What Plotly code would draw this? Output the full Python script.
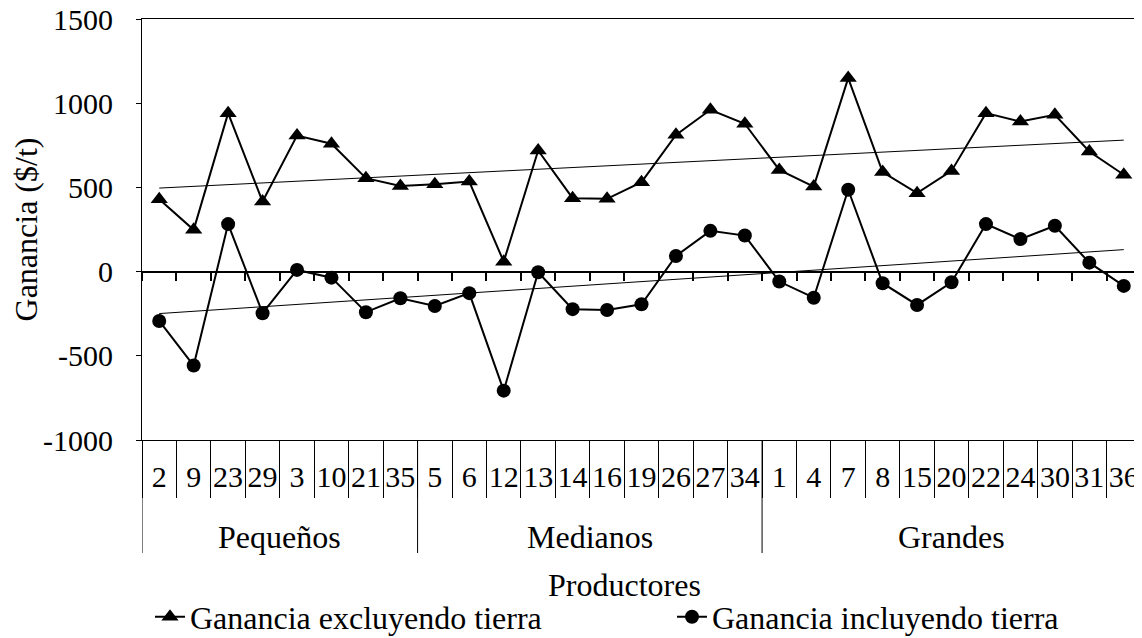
import numpy as np
import plotly.graph_objects as go

groups = ["Pequeños"] * 8 + ["Medianos"] * 10 + ["Grandes"] * 11
productores = ["2", "9", "23", "29", "3", "10", "21", "35",
               "5", "6", "12", "13", "14", "16", "19", "26", "27", "34",
               "1", "4", "7", "8", "15", "20", "22", "24", "30", "31", "36"]
ganancia_excl = [430, 248, 941, 416, 808, 759, 555, 509,
                 519, 535, 59, 719, 436, 432, 531, 812, 961, 878,
                 604, 505, 1149, 591, 466, 598, 941, 891, 931, 713, 575]
ganancia_incl = [-293, -558, 282, -247, 10, -36, -241, -158,
                 -204, -128, -707, -4, -223, -228, -194, 93, 242, 214,
                 -59, -155, 486, -69, -198, -63, 282, 193, 272, 53, -85]
y_ticks = [-1000, -500, 0, 500, 1000, 1500]

FONT = "Liberation Serif, Times New Roman, serif"
FS_TXT = 32
FS_NUM = 30

# the page body adds an 8px margin, so the figure is sized to the remaining view
W, H = 1134, 630
ML, MR, MT, MB = 134, 1, 11, 198
PW, PH = W - ML - MR, H - MT - MB
PLOT_LEFT, PLOT_BOTTOM = 8 + ML, 8 + H - MB


def py(pix_y):
    """screen pixel row -> paper y"""
    return (PLOT_BOTTOM - pix_y) / PH


def px(pix_x):
    return (pix_x - PLOT_LEFT) / PW


idx = np.arange(len(productores))


def trend(vals):
    m, b = np.polyfit(idx, np.array(vals, dtype=float), 1)
    return list(m * idx + b)


fig = go.Figure()
fig.add_trace(go.Scatter(
    x=productores, y=ganancia_excl, mode="lines+markers",
    name="Ganancia excluyendo tierra", legend="legend",
    line=dict(color="black", width=2),
    marker=dict(symbol="triangle-up", size=15, color="black")))
fig.add_trace(go.Scatter(
    x=productores, y=ganancia_incl, mode="lines+markers",
    name="Ganancia incluyendo tierra", legend="legend2",
    line=dict(color="black", width=2),
    marker=dict(symbol="circle", size=14, color="black")))
fig.add_trace(go.Scatter(
    x=productores, y=trend(ganancia_excl), mode="lines", showlegend=False,
    line=dict(color="black", width=1), hoverinfo="skip"))
fig.add_trace(go.Scatter(
    x=productores, y=trend(ganancia_incl), mode="lines", showlegend=False,
    line=dict(color="black", width=1), hoverinfo="skip"))
# hidden trace carrying the category axis drawn at y = 0
fig.add_trace(go.Scatter(
    x=productores, y=[None] * len(productores), xaxis="x2",
    showlegend=False, hoverinfo="skip", mode="lines"))

ymin, ymax = y_ticks[0], y_ticks[-1]
zero_pos = (0 - ymin) / (ymax - ymin)

# group boundaries and centres derived from the group list
bounds = [-0.5]
centres = []
names = []
start = 0
for i in range(1, len(groups) + 1):
    if i == len(groups) or groups[i] != groups[start]:
        bounds.append(i - 0.5)
        centres.append((start + i - 1) / 2)
        names.append(groups[start])
        start = i

shapes = [dict(type="line", xref="x", yref="paper", x0=b, x1=b,
               y0=0, y1=py(553), line=dict(color="black", width=1))
          for b in bounds]
annotations = [dict(text=n, x=c, xref="x", y=py(537), yref="paper",
                    showarrow=False, yanchor="middle", xanchor="center",
                    font=dict(family=FONT, size=FS_TXT, color="black"))
               for n, c in zip(names, centres)]
annotations.append(dict(text="Productores", x=px(624), xref="paper",
                        y=py(585), yref="paper", showarrow=False,
                        yanchor="middle", xanchor="center",
                        font=dict(family=FONT, size=FS_TXT, color="black")))

legend_common = dict(orientation="h", yanchor="middle", xanchor="left",
                     font=dict(family=FONT, size=FS_TXT, color="black"),
                     bgcolor="rgba(0,0,0,0)", itemwidth=30)

fig.update_layout(
    width=W, height=H,
    margin=dict(l=ML, r=MR, t=MT, b=MB, autoexpand=False),
    paper_bgcolor="white", plot_bgcolor="white",
    font=dict(family=FONT, size=FS_TXT, color="black"),
    showlegend=True,
    legend=dict(x=px(150), y=py(617), **legend_common),
    legend2=dict(x=px(672), y=py(617), **legend_common),
    shapes=shapes,
    annotations=annotations,
    xaxis=dict(
        type="category", categoryorder="array", categoryarray=productores,
        range=[-0.5, len(productores) - 0.5], automargin=False,
        tickmode="linear", tick0=0, dtick=1,
        showline=True, linecolor="black", linewidth=1, mirror=True,
        ticks="outside", ticklen=57, tickcolor="black", tickwidth=1,
        tickson="boundaries", ticklabelstandoff=10, tickangle=0,
        ticklabeloverflow="allow",
        tickfont=dict(family=FONT, size=FS_NUM, color="black"),
        showgrid=False, zeroline=False,
    ),
    xaxis2=dict(
        type="category", overlaying="x", anchor="free", position=zero_pos,
        categoryorder="array", categoryarray=productores,
        range=[-0.5, len(productores) - 0.5], automargin=False,
        tickmode="linear", tick0=0, dtick=1,
        showline=True, linecolor="black", linewidth=2,
        ticks="outside", ticklen=8, tickcolor="black", tickwidth=2,
        tickson="boundaries", showticklabels=False, showgrid=False, zeroline=False,
    ),
    yaxis=dict(
        range=[ymin, ymax], tickvals=y_ticks, ticktext=[str(v) for v in y_ticks],
        automargin=False, ticklabeloverflow="allow",
        showline=True, linecolor="black", linewidth=1, mirror=True,
        ticks="outside", ticklen=5, tickcolor="black",
        ticklabelstandoff=17,
        tickfont=dict(family=FONT, size=FS_NUM, color="black"),
        showgrid=False, zeroline=False,
        title=dict(text="Ganancia ($/t)", font=dict(family=FONT, size=FS_TXT), standoff=0),
    ),
)

fig.write_html("out.html")
